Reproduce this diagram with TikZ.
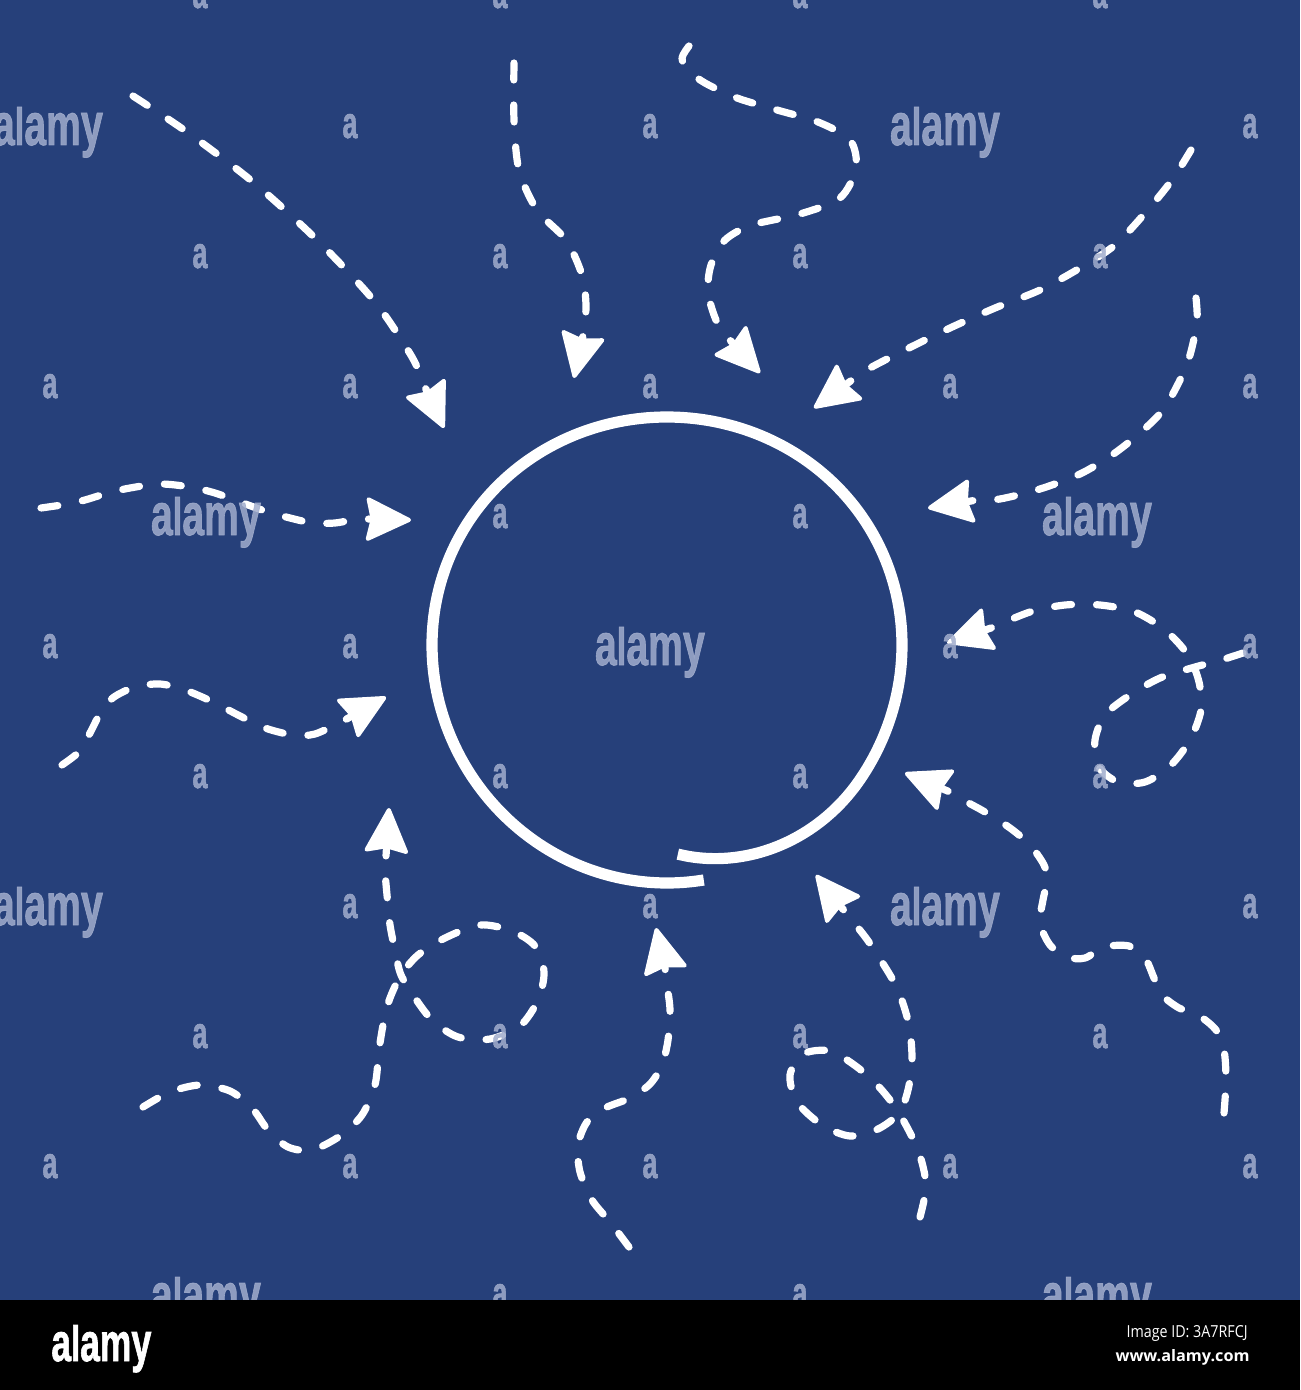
\documentclass[tikz,border=0pt]{standalone}
\usepackage{fontspec}
\usetikzlibrary{arrows.meta}
\newfontfamily\wmfont{Liberation Sans}[BoldFeatures={FakeBold=1.5}]
\newfontfamily\osfont{Open Sans}
\definecolor{bgblue}{RGB}{38,64,122}
\definecolor{wmcol}{RGB}{161,173,205}
\newcommand\wmword[2]{\resizebox{!}{#1}{a}\resizebox{!}{#2}{l}\resizebox{!}{#1}{a}\resizebox{!}{#1}{m}\resizebox{!}{#1}{y}}
\tikzset{
  flow/.style={draw=white, line width=3.6pt, line cap=round, line join=round,
    dash pattern=on 8.5pt off 12.5pt,
    -{Stealth[length=24pt,width=23pt,inset=2.5pt,round,line width=2pt]}},
  ring/.style={draw=white, line width=5.6pt, line cap=butt, line join=round},
  wmark/.style={inner sep=0pt, anchor=base, text=wmcol, text opacity=0.85, font=\wmfont\bfseries},
  bartext/.style={inner sep=0pt, text=white}
}
\begin{document}
\begin{tikzpicture}[x=0.5pt, y=-0.5pt,
  declare function={g(\t)=1-0.12*(max(0,\t-395)/52)*(max(0,\t-395)/52);}]
\useasboundingbox (0,0) rectangle (1300,1390);
\clip (0,0) rectangle (1300,1390);
\fill[bgblue] (0,0) rectangle (1300,1300);

% ---------- ring (one turn, ends overlapping at the bottom) ----------
\draw[ring] plot[domain=81:447, samples=140, smooth, variable=\t]
  ({667+235*g(\t)*cos(\t)}, {645+(233+5*sin(\t))*g(\t)*sin(\t)});

% ---------- start and tip coordinates ----------
\coordinate (s1) at (133,96);   \coordinate (t1) at (444,428);
\coordinate (s2) at (514,63);   \coordinate (t2) at (574,378);
\coordinate (s3) at (689,46);   \coordinate (t3) at (760,373);
\coordinate (s4) at (1191,150); \coordinate (t4) at (814,408);
\coordinate (s5) at (1196,298); \coordinate (t5) at (928,508);
\coordinate (s6) at (1243,653); \coordinate (t6) at (947,643);
\coordinate (s7) at (1224,1113);\coordinate (t7) at (905,773);
\coordinate (s8) at (920,1217); \coordinate (t8) at (816,875);
\coordinate (s9) at (629,1247); \coordinate (t9) at (656,928);
\coordinate (s10) at (143,1107);\coordinate (t10) at (389,808);
\coordinate (s11) at (62,765);  \coordinate (t11) at (386,697);
\coordinate (s12) at (41,508);  \coordinate (t12) at (411,520);

% ---------- dashed arrows ----------
\draw[flow] plot[smooth] coordinates {(s1) (187,132) (253,182) (317,240) (375,302) (412,357) (424,385)} -- (t1);
\draw[flow] plot[smooth] coordinates {(s2) (514,120) (519,170) (537,210) (566,240) (582,275) (586,305) (584,331)} -- (t2);
\draw[flow] plot[smooth] coordinates {(s3) (682,58) (688,70) (705,83) (737,98) (777,110) (818,122) (850,140) (856,168) (840,198) (800,214) (752,225) (725,240) (711,265) (708,292) (716,320) (728,338)} -- (t3);
\draw[flow] plot[smooth] coordinates {(s4) (1172,180) (1146,212) (1115,245) (1080,268) (1040,290) (995,308) (950,328) (905,350) (870,368) (852,380)} -- (t4);
\draw[flow] plot[smooth] coordinates {(s5) (1197,322) (1190,355) (1180,380) (1163,410) (1140,433) (1112,455) (1080,474) (1040,489) (1000,499) (977,500)} -- (t5);
\draw[flow] plot[smooth] coordinates {(s6) (1218,661) (1195,667) (1160,678) (1130,695) (1105,715) (1095,740) (1098,766) (1118,782) (1145,782) (1170,766) (1190,740) (1201,710) (1199,682) (1188,655) (1165,630) (1135,612) (1100,605) (1065,605) (1030,612) (991,628)} -- (t6);
\draw[flow] plot[smooth] coordinates {(s7) (1226,1080) (1224,1050) (1216,1030) (1198,1015) (1179,1008) (1162,995) (1154,978) (1145,958) (1129,946) (1104,947) (1085,958) (1067,957) (1050,945) (1040,923) (1043,900) (1047,880) (1044,865) (1030,845) (1010,828) (985,812) (965,801) (950,792)} -- (t7);
\draw[flow] plot[smooth] coordinates {(s8) (926,1185) (918,1150) (899,1113) (880,1088) (857,1067) (830,1051) (803,1054) (790,1075) (797,1102) (822,1125) (850,1136) (878,1129) (899,1113) (908,1090) (912,1060) (909,1025) (898,990) (882,962) (866,938) (846,913)} -- (t8);
\draw[flow] plot[smooth] coordinates {(s9) (610,1222) (592,1200) (580,1172) (578,1145) (587,1122) (605,1108) (630,1098) (650,1084) (662,1065) (668,1040) (670,1010) (667,985) (665,968)} -- (t9);
\draw[flow] plot[smooth] coordinates {(s10) (170,1092) (200,1085) (230,1091) (252,1108) (268,1130) (288,1147) (312,1150) (340,1136) (362,1115) (375,1085) (379,1050) (384,1020) (390,998) (401,975) (418,955) (445,938) (480,925) (512,931) (535,946) (544,972) (538,1000) (520,1026) (490,1039) (458,1037) (433,1021) (415,998) (401,975) (396,955) (390,925) (387,895) (385,870) (386,856)} -- (t10);
\draw[flow] plot[smooth] coordinates {(s11) (80,751) (90,733) (102,710) (114,697) (135,687) (160,684) (185,690) (213,702) (240,716) (265,728) (293,735) (315,734) (343,721)} -- (t11);
\draw[flow] plot[smooth] coordinates {(s12) (68,504) (85,500) (108,493) (130,488) (160,484) (190,487) (215,493) (240,502) (265,511) (290,518) (313,523) (335,523) (352,520) (365,519)} -- (t12);

% ---------- watermarks ----------
\foreach \xx/\yy in {350/138,650/138,1250/138,
  50/398,350/398,650/398,950/398,1250/398,
  50/658,350/658,950/658,1250/658,
  350/918,650/918,1250/918,
  50/1178,350/1178,650/1178,950/1178,1250/1178,
  200/8,500/8,800/8,1100/8,
  200/268,500/268,800/268,1100/268,
  500/528,800/528,
  200/788,500/788,800/788,1100/788,
  200/1048,500/1048,800/1048,1100/1048,
  500/1308,800/1308}
  {\node[wmark] (wa-\xx-\yy) at (\xx,\yy) {\resizebox{7.5pt}{12pt}{a}};}
\foreach \xx/\yy in {48/145,945/145,650/665,48/925,945/925,206/535,1097/535,206/1315,1097/1315}
  {\node[wmark] (wl-\xx-\yy) at (\xx,\yy) {\resizebox{55pt}{19pt}{\wmword{16pt}{19pt}}};}

% ---------- bottom bar ----------
\fill[black] (0,1300) rectangle (1300,1390);
\node[bartext, anchor=base west, font=\wmfont\bfseries] (logo) at (51,1361) {\resizebox{50pt}{18pt}{\wmword{14.5pt}{18pt}}};
\node[bartext, anchor=base east, font=\osfont] (imgid) at (1248,1337) {\resizebox{60.5pt}{6pt}{Image ID: 3A7RFCJ}};
\node[bartext, anchor=base east, font=\osfont\bfseries] (site) at (1250,1361) {\resizebox{67pt}{6pt}{www.alamy.com}};
\end{tikzpicture}
\end{document}
